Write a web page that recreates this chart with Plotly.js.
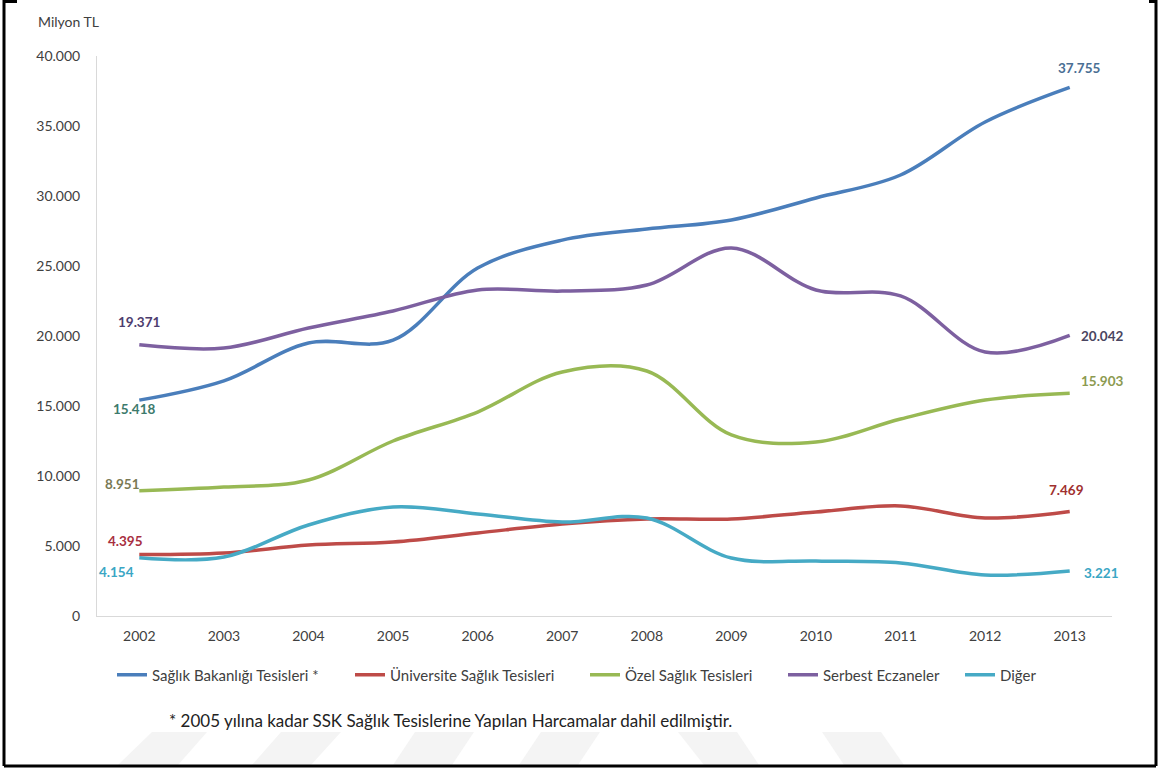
<!DOCTYPE html>
<html>
<head>
<meta charset="utf-8">
<script src="https://cdn.plot.ly/plotly-3.0.1.min.js"></script>
<style>
  html, body { margin: 0; padding: 0; background: #fff; }
  #chart { width: 1163px; height: 769px; }
</style>
</head>
<body>
<div id="chart"></div>
<script>
// ---- Data ----
const years = [2002, 2003, 2004, 2005, 2006, 2007, 2008, 2009, 2010, 2011, 2012, 2013];
const seriesNames = ["Sağlık Bakanlığı Tesisleri *", "Üniversite Sağlık Tesisleri", "Özel Sağlık Tesisleri", "Serbest Eczaneler", "Diğer"];
const saglikBakanligi = [15418, 16800, 19500, 19700, 24850, 26850, 27640, 28290, 29860, 31500, 35290, 37755];
const universite      = [4395, 4500, 5070, 5290, 5930, 6570, 6930, 6930, 7430, 7860, 7000, 7469];
const ozel            = [8951, 9210, 9710, 12500, 14570, 17430, 17500, 12930, 12430, 14070, 15430, 15903];
const serbestEczane   = [19371, 19140, 20570, 21790, 23290, 23210, 23640, 26290, 23290, 22860, 18860, 20042];
const diger           = [4154, 4210, 6500, 7790, 7290, 6710, 7000, 4140, 3930, 3790, 2930, 3221];
const yTicks = [0, 5000, 10000, 15000, 20000, 25000, 30000, 35000, 40000];
const yUnitLabel = "Milyon TL";
const footNote = "* 2005 yılına kadar SSK Sağlık Tesislerine Yapılan Harcamalar dahil edilmiştir.";

// ---- Styles ----
const lineColors = ["#4A7EBB", "#BE4B48", "#98B954", "#7D60A0", "#46AAC5"];
const allSeries = [saglikBakanligi, universite, ozel, serbestEczane, diger];
const legendLineStart = [117, 355, 590, 788, 965];
// label style: [color, xshift, yshift] for first and last point
const firstLabelStyle = [
  ["#3d7a6c", -5, -9],
  ["#a82f3f", -14, 13],
  ["#7a7a55", -17, 7],
  ["#4d3d6e", 0, 23],
  ["#3aa6c4", -23, -14]
];
const lastLabelStyle = [
  ["#4a6f94", 10, 19],
  ["#a0302f", -3, 21],
  ["#8c9a50", 33, 12],
  ["#4a4560", 33, -1],
  ["#3aa6c4", 32, -2]
];

const FONT = "Lato, 'Liberation Sans', sans-serif";
const W = 1163, H = 769;
const mL = 97, mR = 51, mT = 56, mB = 153;
const pw = W - mL - mR, ph = H - mT - mB;
const px = x => (x - mL) / pw;
const py = y => (H - mB - y) / ph;

function fmt(v) {
  return String(v).replace(/\B(?=(\d{3})+(?!\d))/g, ".");
}

const legendIds = allSeries.map((_, i) => i === 0 ? "legend" : "legend" + (i + 1));

const traces = allSeries.map((vals, i) => ({
  x: years,
  y: vals,
  name: seriesNames[i],
  type: "scatter",
  mode: "lines",
  legend: legendIds[i],
  line: { color: lineColors[i], width: 3.5, shape: "spline", smoothing: 1 },
  hoverinfo: "x+y+name"
}));

const annotations = [];
allSeries.forEach((vals, i) => {
  const f = firstLabelStyle[i], l = lastLabelStyle[i];
  annotations.push({
    xref: "x", yref: "y", x: years[0], y: vals[0], text: "<b>" + fmt(vals[0]) + "</b>",
    showarrow: false, xshift: f[1], yshift: f[2],
    font: { family: FONT, size: 13.5, color: f[0] }
  });
  const n = vals.length - 1;
  annotations.push({
    xref: "x", yref: "y", x: years[n], y: vals[n], text: "<b>" + fmt(vals[n]) + "</b>",
    showarrow: false, xshift: l[1], yshift: l[2],
    font: { family: FONT, size: 13.5, color: l[0] }
  });
});
annotations.push({
  xref: "paper", yref: "paper", x: px(36), y: py(21), xanchor: "left", yanchor: "middle",
  text: yUnitLabel, showarrow: false, font: { family: FONT, size: 14, color: "#404040" }
});
annotations.push({
  xref: "paper", yref: "paper", x: px(167), y: py(720), xanchor: "left", yanchor: "middle",
  text: footNote, showarrow: false, font: { family: FONT, size: 17, color: "#222222" }
});

// border and faint watermark stripes (decoration)
const shapes = [];
const border = { color: "#000000", width: 3 };
shapes.push({ type: "line", xref: "paper", yref: "paper", x0: px(4), x1: px(4), y0: py(0), y1: py(766), line: border });
shapes.push({ type: "line", xref: "paper", yref: "paper", x0: px(1156), x1: px(1156), y0: py(0), y1: py(766), line: border });
shapes.push({ type: "line", xref: "paper", yref: "paper", x0: px(4), x1: px(1156), y0: py(766), y1: py(766), line: border });
shapes.push({ type: "line", xref: "paper", yref: "paper", x0: px(4), x1: px(17), y0: py(1.5), y1: py(1.5), line: border });
shapes.push({ type: "line", xref: "paper", yref: "paper", x0: px(1149), x1: px(1156), y0: py(1.5), y1: py(1.5), line: border });

const stripes = [
  [[118, 765], [178, 765], [207, 732], [152, 732]],
  [[252, 765], [311, 765], [341, 732], [281, 732]],
  [[393, 765], [452, 765], [474, 732], [415, 732]],
  [[519, 765], [578, 765], [600, 732], [541, 732]],
  [[704, 765], [759, 765], [737, 732], [678, 732]],
  [[844, 765], [904, 765], [881, 732], [822, 732]]
];
stripes.forEach(s => {
  const path = "M " + s.map(p => px(p[0]) + "," + py(p[1])).join(" L ") + " Z";
  shapes.push({ type: "path", xref: "paper", yref: "paper", path: path, fillcolor: "#f4f4f4", line: { width: 0 }, layer: "below" });
});

const layout = {
  width: W, height: H,
  margin: { l: mL, r: mR, t: mT, b: mB, pad: 0 },
  paper_bgcolor: "#ffffff", plot_bgcolor: "rgba(0,0,0,0)",
  separators: ",.",
  font: { family: FONT, size: 13, color: "#404040" },
  showlegend: true,
  xaxis: {
    range: [2001.5, 2013.5], tickvals: years, ticktext: years.map(String),
    showgrid: false, zeroline: false, showline: true, linecolor: "#d9d9d9", linewidth: 1,
    ticks: "", ticklabelstandoff: 7, tickfont: { family: FONT, size: 14, color: "#404040" },
    fixedrange: true
  },
  yaxis: {
    range: [0, 40000], tickvals: yTicks, tickformat: ",d",
    showgrid: false, zeroline: false, showline: true, linecolor: "#d9d9d9", linewidth: 1,
    ticks: "", ticklabelstandoff: 13, tickfont: { family: FONT, size: 14, color: "#404040" },
    fixedrange: true
  },
  annotations: annotations,
  shapes: shapes
};
legendIds.forEach((id, i) => {
  layout[id] = {
    orientation: "h", x: px(legendLineStart[i] - 5), xanchor: "left", y: py(675), yanchor: "middle",
    font: { family: FONT, size: 15, color: "#404040" }, bgcolor: "rgba(0,0,0,0)"
  };
});

Plotly.newPlot("chart", traces, layout, { displayModeBar: false });
</script>
</body>
</html>
